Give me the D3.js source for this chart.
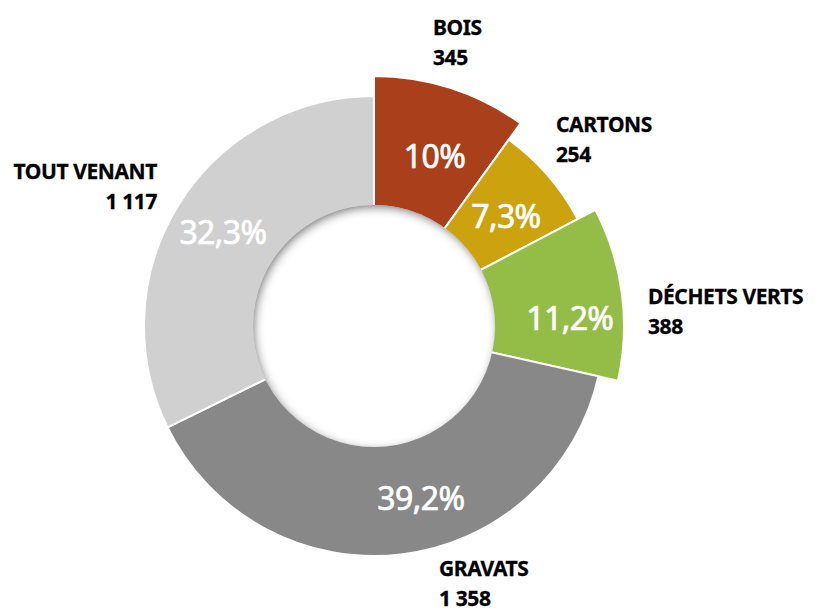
<!DOCTYPE html>
<html lang="fr">
<head>
  <meta charset="UTF-8">
  <title>Déchets collectés</title>
  <style>
    body {
      margin: 0;
      padding: 0;
      background: #fff;
    }

    svg {
      display: block;
    }

    .cat {
      font-family: 'Noto Sans', sans-serif;
      font-weight: bold;
      font-size: 21px;
      letter-spacing: -0.4px;
      fill: #000;
      stroke: #000;
      stroke-width: 0.3px;
    }

    .pct {
      font-family: 'Noto Sans', sans-serif;
      font-size: 32px;
      fill: #fff;
      stroke: #fff;
      stroke-width: 0.7px;
      letter-spacing: -0.6px;
    }
  </style>
</head>
<body>
  <svg></svg>

  <script src="https://cdn.jsdelivr.net/npm/d3@7"></script>
  <script>
    // data
    const categories = ["BOIS", "CARTONS", "DÉCHETS VERTS", "GRAVATS", "TOUT VENANT"];
    const tonnages = [345, 254, 388, 1358, 1117];
    const valueLabels = ["345", "254", "388", "1 358", "1 117"];
    const pctLabels = ["10%", "7,3%", "11,2%", "39,2%", "32,3%"];
    const exploded = [true, false, true, false, false];

    const colors = ["#aa3f1b", "#cca20f", "#94bd48", "#888888", "#d0d0d0"];

    const width = 819, height = 610;
    const cx = 374, cy = 326;
    const rOuter = 230, rExploded = 250, rHole = 121;

    // label placement tweaks (angle offset in degrees, radius)
    const pctPlace = [[1.6, 181], [1, 172], [5, 196], [-8.5, 178], [0, 178]];
    // outer labels: x, y of first baseline relative to centre, text anchor
    const catPlace = [
      [59, -291, "start"],
      [182, -194, "start"],
      [274, -22, "start"],
      [65, 250, "start"],
      [-217, -147, "end"]
    ];

    const svg = d3.select("svg")
      .attr("width", width)
      .attr("height", height);

    const defs = svg.append("defs");
    const f = defs.append("filter")
      .attr("id", "inset")
      .attr("x", "-20%").attr("y", "-20%")
      .attr("width", "140%").attr("height", "140%");
    f.append("feOffset").attr("in", "SourceAlpha").attr("dx", 2).attr("dy", 3).attr("result", "off");
    f.append("feGaussianBlur").attr("in", "off").attr("stdDeviation", 5).attr("result", "blur");
    f.append("feComposite").attr("operator", "out").attr("in", "SourceAlpha").attr("in2", "blur").attr("result", "inverse");
    f.append("feFlood").attr("flood-color", "#000").attr("flood-opacity", 0.85).attr("result", "color");
    f.append("feComposite").attr("operator", "in").attr("in", "color").attr("in2", "inverse").attr("result", "shadow");
    f.append("feComposite").attr("operator", "over").attr("in", "shadow").attr("in2", "SourceGraphic");

    const pie = d3.pie().sort(null).value(d => d)(tonnages);

    const arc = d3.arc()
      .innerRadius(60)
      .outerRadius((d, i) => exploded[i] ? rExploded : rOuter);

    const g = svg.append("g").attr("transform", `translate(${cx},${cy})`);

    g.selectAll("path.slice")
      .data(pie)
      .join("path")
      .attr("class", "slice")
      .attr("d", (d, i) => arc(d, i))
      .attr("fill", (d, i) => colors[i])
      .attr("stroke", "#fff")
      .attr("stroke-width", 2)
      .attr("stroke-linejoin", "miter");

    // hole with inner shadow
    g.append("circle")
      .attr("r", rHole)
      .attr("fill", "#fff")
      .attr("filter", "url(#inset)");

    // percentages
    g.selectAll("text.pct")
      .data(pie)
      .join("text")
      .attr("class", "pct")
      .attr("text-anchor", "middle")
      .attr("dominant-baseline", "central")
      .attr("x", (d, i) => {
        const a = (d.startAngle + d.endAngle) / 2 + pctPlace[i][0] * Math.PI / 180;
        return Math.sin(a) * pctPlace[i][1];
      })
      .attr("y", (d, i) => {
        const a = (d.startAngle + d.endAngle) / 2 + pctPlace[i][0] * Math.PI / 180;
        return -Math.cos(a) * pctPlace[i][1];
      })
      .text((d, i) => pctLabels[i]);

    // category + value labels
    const lab = g.selectAll("text.cat")
      .data(categories)
      .join("text")
      .attr("class", "cat")
      .attr("text-anchor", (d, i) => catPlace[i][2])
      .attr("x", (d, i) => catPlace[i][0])
      .attr("y", (d, i) => catPlace[i][1]);

    lab.append("tspan").text(d => d);
    lab.append("tspan")
      .attr("x", (d, i) => catPlace[i][0])
      .attr("dy", 30)
      .text((d, i) => valueLabels[i]);
  </script>
</body>
</html>
